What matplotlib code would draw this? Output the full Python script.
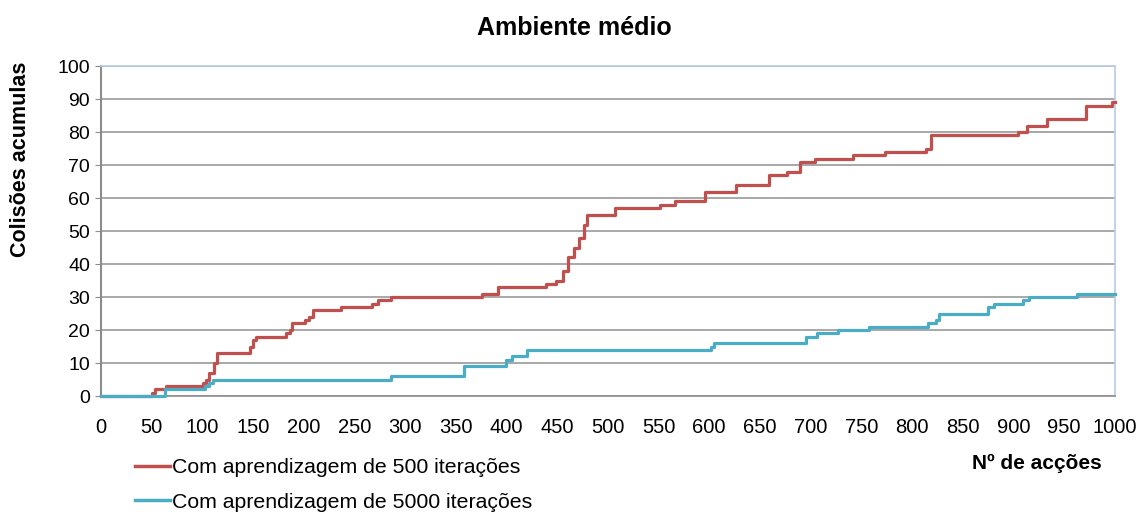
import matplotlib.pyplot as plt
from matplotlib.lines import Line2D

plt.rcParams['font.family'] = ['Liberation Sans', 'DejaVu Sans']

# change points of the cumulative collision counts (step curves)
acoes_500 = [0, 50, 53, 64, 101, 104, 107, 111, 114, 147, 150, 153, 182, 186, 188,
             201, 205, 209, 237, 267, 273, 286, 376, 392, 439, 449, 456, 461, 467,
             472, 476, 479, 507, 551, 566, 596, 626, 659, 677, 690, 704, 742, 773,
             814, 819, 905, 913, 933, 972, 997, 1000]
colisoes_500 = [0, 1, 2, 3, 4, 5, 7, 10, 13, 15, 17, 18, 19, 20, 22,
                23, 24, 26, 27, 28, 29, 30, 31, 33, 34, 35, 38, 42, 45,
                48, 52, 55, 57, 58, 59, 62, 64, 67, 68, 71, 72, 73, 74,
                75, 79, 80, 82, 84, 88, 89, 89]

acoes_5000 = [0, 63, 103, 107, 110, 286, 358, 400, 405, 420, 602, 605, 695, 706,
              727, 758, 816, 824, 827, 875, 881, 910, 915, 963, 1000]
colisoes_5000 = [0, 2, 3, 4, 5, 6, 9, 11, 12, 14, 15, 16, 18, 19,
                 20, 21, 22, 23, 25, 27, 28, 29, 30, 31, 31]

x_ticks = list(range(0, 1001, 50))
y_ticks = list(range(0, 101, 10))

red = '#C0504D'
blue = '#4BACC6'

fig = plt.figure(figsize=(11.48, 5.13), dpi=100)
ax = fig.add_axes([0.088, 0.228, 0.883, 0.643])

ax.step(acoes_500, colisoes_500, where='post', color=red, lw=2.3, zorder=3,
        clip_on=False)
ax.step(acoes_5000, colisoes_5000, where='post', color=blue, lw=2.3, zorder=4,
        clip_on=False)

ax.set_xlim(0, 1000)
ax.set_ylim(0, 100)
ax.set_xticks(x_ticks)
ax.set_yticks(y_ticks)
ax.tick_params(axis='x', length=0, labelsize=14.5, pad=16)
ax.tick_params(axis='y', length=4, color='#8c8c8c', labelsize=14, pad=4)
ax.yaxis.grid(True, color='#9a9a9a', lw=1.2)
ax.set_axisbelow(True)

for side in ['top', 'right']:
    ax.spines[side].set_color('#b8cce4')
    ax.spines[side].set_linewidth(1.2)
ax.spines['left'].set_color('#8c8c8c')
ax.spines['left'].set_linewidth(1.5)
ax.spines['bottom'].set_color('#8c8c8c')
ax.spines['bottom'].set_linewidth(1.2)

fig.text(0.5, 0.945, 'Ambiente médio', ha='center', va='center',
         fontsize=18, fontweight='bold')
fig.text(0.018, 0.69, 'Colisões acumulas', ha='center', va='center',
         rotation=90, fontsize=15.5, fontweight='bold')
fig.text(0.903, 0.096, 'Nº de acções', ha='center', va='center',
         fontsize=15, fontweight='bold')

# legend drawn below the axes, left aligned
leg = fig.legend(handles=[Line2D([], [], color=red, lw=2.5),
                          Line2D([], [], color=blue, lw=2.5)],
                 labels=['Com aprendizagem de 500 iterações',
                         'Com aprendizagem de 5000 iterações'],
                 loc='upper left', bbox_to_anchor=(0.108, 0.128),
                 frameon=False, fontsize=15.3, handlelength=1.65,
                 handletextpad=0.1, labelspacing=0.74, borderpad=0)

fig.savefig('out.png', dpi=100)
